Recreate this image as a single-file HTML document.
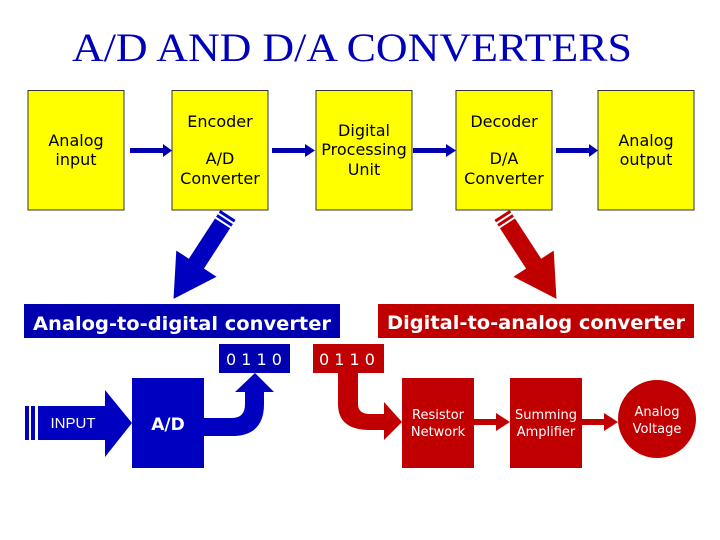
<!DOCTYPE html>
<html><head><meta charset="utf-8"><style>
html,body{margin:0;padding:0;background:#fff;width:720px;height:540px;overflow:hidden}
svg{display:block}
.t{font-family:"DejaVu Sans","Liberation Sans",sans-serif;font-size:16px;fill:#000;text-anchor:middle}
.w{font-family:"DejaVu Sans","Liberation Sans",sans-serif;fill:#fff;text-anchor:middle}
</style></head><body>
<svg width="720" height="540" viewBox="0 0 720 540" xmlns="http://www.w3.org/2000/svg">
<text x="352" y="61" font-family="Liberation Serif,serif" font-size="40" fill="#0000bb" text-anchor="middle" textLength="560" lengthAdjust="spacingAndGlyphs">A/D  AND  D/A  CONVERTERS</text>

<g fill="#ffff00" stroke="#333" stroke-width="1">
<rect x="28" y="90.5" width="96" height="119.5"/>
<rect x="172" y="90.5" width="96" height="119.5"/>
<rect x="316" y="90.5" width="96" height="119.5"/>
<rect x="456" y="90.5" width="96" height="119.5"/>
<rect x="598" y="90.5" width="96" height="119.5"/>
</g>
<text class="t" x="76" y="146">Analog</text><text class="t" x="76" y="165">input</text>
<text class="t" x="220" y="127">Encoder</text><text class="t" x="220" y="164">A/D</text><text class="t" x="220" y="184">Converter</text>
<text class="t" x="364" y="136">Digital</text><text class="t" x="364" y="155">Processing</text><text class="t" x="364" y="175">Unit</text>
<text class="t" x="504" y="127">Decoder</text><text class="t" x="504" y="164">D/A</text><text class="t" x="504" y="184">Converter</text>
<text class="t" x="646" y="146">Analog</text><text class="t" x="646" y="165">output</text>

<g fill="#0000b0">
<rect x="130" y="148" width="34" height="5"/><polygon points="163,144 172,150.5 163,157"/>
<rect x="272" y="148" width="34" height="5"/><polygon points="305,144 315,150.5 305,157"/>
<rect x="413" y="148" width="34" height="5"/><polygon points="446,144 456,150.5 446,157"/>
<rect x="556" y="148" width="34" height="5"/><polygon points="589,144 598,150.5 589,157"/>
</g>

<g transform="translate(228,215) rotate(33)" fill="#0000c0">
<rect x="-9" y="0" width="18" height="3"/>
<rect x="-9" y="5" width="18" height="3"/>
<rect x="-9" y="10" width="18" height="52"/>
<polygon points="-24,58 24,58 0,100"/>
</g>
<g transform="translate(502,215) rotate(-33)" fill="#c00000">
<rect x="-9" y="0" width="18" height="3"/>
<rect x="-9" y="5" width="18" height="3"/>
<rect x="-9" y="10" width="18" height="52"/>
<polygon points="-24,58 24,58 0,100"/>
</g>

<rect x="24" y="304" width="316" height="34" fill="#0000b0"/>
<text class="w" x="182" y="330" font-size="19" font-weight="bold" textLength="298" lengthAdjust="spacingAndGlyphs">Analog-to-digital converter</text>
<rect x="378" y="304" width="316" height="34" fill="#c00000"/>
<text class="w" x="536" y="329" font-size="19" font-weight="bold" textLength="298" lengthAdjust="spacingAndGlyphs">Digital-to-analog converter</text>

<rect x="219" y="344" width="71" height="29" fill="#0000b0"/>
<text class="w" x="254" y="365" font-size="16" font-family="Liberation Mono,monospace">0 1 1 0</text>
<rect x="313" y="344" width="71" height="29" fill="#c00000"/>
<text class="w" x="347" y="365" font-size="16" font-family="Liberation Mono,monospace">0 1 1 0</text>

<g fill="#0000c0">
<rect x="25" y="406" width="4" height="34"/>
<rect x="31" y="406" width="4" height="34"/>
<rect x="38" y="406" width="68" height="34"/>
<polygon points="105,390 132,423 105,457"/>
<rect x="132" y="378" width="72" height="90"/>
<path d="M204,418 L232,418 Q245,418 245,404 L245,392 L235,392 L255,373 L274,392 L264,392 L264,404 Q264,436 232,436 L204,436 Z"/>
</g>
<text x="73" y="428" font-family="Liberation Sans,sans-serif" font-size="15" fill="#fff" text-anchor="middle">INPUT</text>
<text class="w" x="168" y="430" font-size="17" font-weight="bold">A/D</text>

<g fill="#c00000">
<path d="M338,373 L358,373 L358,404 Q358,414 370,414 L384,414 L384,402 L402,422 L384,440 L384,430 L370,430 Q338,430 338,404 Z"/>
<rect x="402" y="378" width="72" height="90"/>
<rect x="510" y="378" width="72" height="90"/>
<rect x="474" y="419" width="24" height="6"/><polygon points="496,413 510,422 496,431"/>
<rect x="582" y="419" width="24" height="6"/><polygon points="604,413 618,422 604,431"/>
<circle cx="657" cy="419" r="39"/>
</g>
<g font-family="DejaVu Sans,Liberation Sans,sans-serif" font-size="13" fill="#fff" text-anchor="middle">
<text x="438" y="419">Resistor</text><text x="438" y="436">Network</text>
<text x="546" y="419">Summing</text><text x="546" y="436">Amplifier</text>
<text x="657" y="416">Analog</text><text x="657" y="433">Voltage</text>
</g>
</svg>
</body></html>
